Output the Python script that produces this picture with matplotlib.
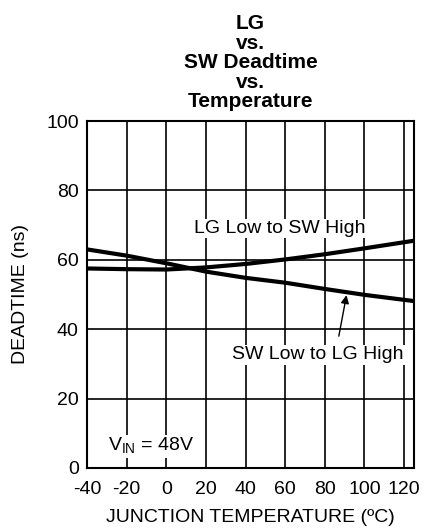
import matplotlib
matplotlib.use("Agg")
import matplotlib.pyplot as plt

plt.rcParams['font.family'] = ['Liberation Sans', 'DejaVu Sans']
plt.rcParams['axes.unicode_minus'] = False

temp = [-40, -20, 0, 20, 40, 60, 80, 100, 125]
lg_low_sw_high = [57.5, 57.3, 57.2, 57.8, 58.8, 60.1, 61.6, 63.3, 65.5]
sw_low_lg_high = [63.0, 61.2, 59.0, 56.6, 54.8, 53.4, 51.6, 49.9, 48.1]
xticks = [-40, -20, 0, 20, 40, 60, 80, 100, 120]
yticks = [0, 20, 40, 60, 80, 100]

fig = plt.figure(figsize=(4.24, 5.29), dpi=100)
ax = fig.add_axes([87/424, 1-468/529, (414-87)/424, (468-121)/529])

ax.set_xlim(-40, 125)
ax.set_ylim(0, 100)
ax.set_xticks(xticks)
ax.set_yticks(yticks)
ax.tick_params(length=0, labelsize=14)
ax.tick_params(axis='x', pad=9)
ax.tick_params(axis='y', pad=6)
for v in xticks[1:]:
    ax.axvline(v, color='black', lw=1.2, zorder=1)
for v in yticks[1:-1]:
    ax.axhline(v, color='black', lw=1.2, zorder=1)
for s in ax.spines.values():
    s.set_linewidth(1.5)

ax.plot(temp, lg_low_sw_high, color='black', lw=3, zorder=3)
ax.plot(temp, sw_low_lg_high, color='black', lw=3, zorder=3)

bbox = dict(facecolor='white', edgecolor='none', pad=1)
ax.text(57.5, 69, 'LG Low to SW High', ha='center', va='center', fontsize=14, bbox=bbox, zorder=4)
ax.text(76.5, 32.6, 'SW Low to LG High', ha='center', va='center', fontsize=14, bbox=bbox, zorder=4)
ax.annotate('', xy=(91.2, 50.6), xytext=(86.8, 37.2),
            arrowprops=dict(arrowstyle='-|>', color='black', lw=1, mutation_scale=12), zorder=5)
ax.text(-29.5, 6.3, r'V$_{\mathregular{IN}}$ = 48V', ha='left', va='center', fontsize=14, bbox=bbox, zorder=4)

ax.set_xlabel('JUNCTION TEMPERATURE (ºC)', fontsize=14, labelpad=8)
ax.set_ylabel('DEADTIME (ns)', fontsize=14, labelpad=12)
ax.set_title('LG\nvs.\nSW Deadtime\nvs.\nTemperature', fontsize=15, fontweight='bold',
             linespacing=1.03, pad=10)

fig.savefig('out.png', dpi=100)
